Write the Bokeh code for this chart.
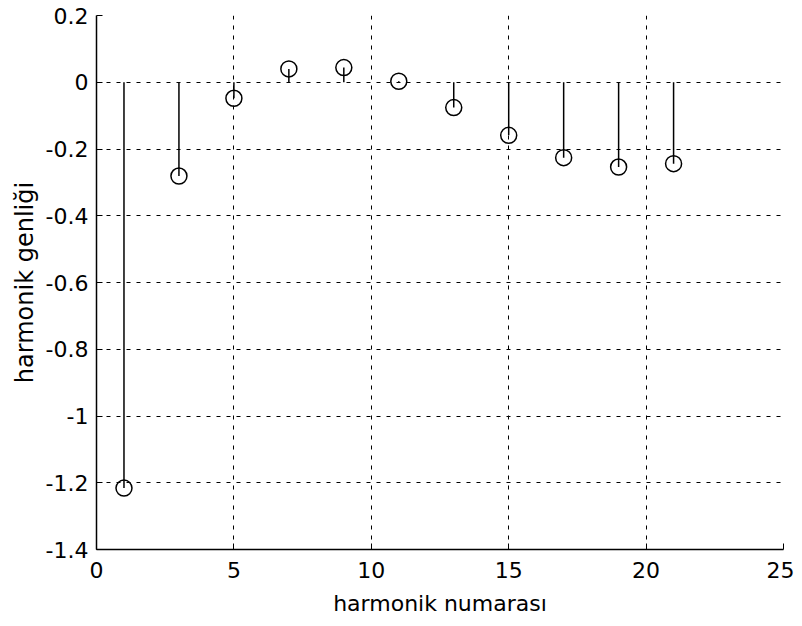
from bokeh.plotting import figure
from bokeh.models import FixedTicker, CustomJSTickFormatter, Range1d
from bokeh.embed import file_html
from bokeh.resources import INLINE

harmonic = [1, 3, 5, 7, 9, 11, 13, 15, 17, 19, 21]
amplitude = [-1.216, -0.281, -0.048, 0.040, 0.044, 0.003, -0.076, -0.159, -0.226, -0.254, -0.244]
x_ticks = [0, 5, 10, 15, 20, 25]
y_ticks = [-1.4, -1.2, -1.0, -0.8, -0.6, -0.4, -0.2, 0.0, 0.2]

p = figure(width=794, height=618, output_backend="svg", toolbar_location=None,
           x_range=Range1d(0, 25), y_range=Range1d(-1.4, 0.2),
           min_border_left=96, min_border_right=11, min_border_top=15, min_border_bottom=68)

p.outline_line_color = None
p.background_fill_color = "white"
p.border_fill_color = "white"

for ax in (p.xaxis, p.yaxis):
    ax.major_tick_in = 6
    ax.major_tick_out = 0
    ax.minor_tick_line_color = None
    ax.axis_line_color = "black"
    ax.axis_line_width = 1.5
    ax.major_tick_line_color = "black"
    ax.major_tick_line_width = 1
    ax.major_label_text_font = "DejaVu Sans"
    ax.major_label_text_font_size = "22px"
    ax.major_label_text_color = "black"
    ax.axis_label_text_font = "DejaVu Sans"
    ax.axis_label_text_font_size = "22px"
    ax.axis_label_text_font_style = "normal"
    ax.axis_label_text_color = "black"

p.yaxis.axis_label_text_font_size = "24px"
p.xaxis.ticker = FixedTicker(ticks=x_ticks)
p.yaxis.ticker = FixedTicker(ticks=y_ticks)
fmt = CustomJSTickFormatter(code="return (Math.round(tick*10)/10).toString();")
p.xaxis.formatter = fmt
p.yaxis.formatter = fmt
p.xaxis.major_label_standoff = 12
p.yaxis.major_label_standoff = 8
p.xaxis.axis_label = "harmonik numarası"
p.yaxis.axis_label = "harmonik genliği"
p.xaxis.axis_label_standoff = 10
p.yaxis.axis_label_standoff = 4

for g in (p.xgrid, p.ygrid):
    g.grid_line_color = "black"
    g.grid_line_dash = "4 6"
    g.grid_line_width = 1
p.xgrid.ticker = FixedTicker(ticks=x_ticks)
p.ygrid.ticker = FixedTicker(ticks=y_ticks)

p.segment(x0=harmonic, y0=[0] * len(harmonic), x1=harmonic, y1=amplitude,
          line_color="black", line_width=1.5)
p.scatter(x=harmonic, y=amplitude, marker="circle", size=16,
          fill_color=None, line_color="black", line_width=1.5)

open("out.html", "w").write(file_html(p, INLINE))
